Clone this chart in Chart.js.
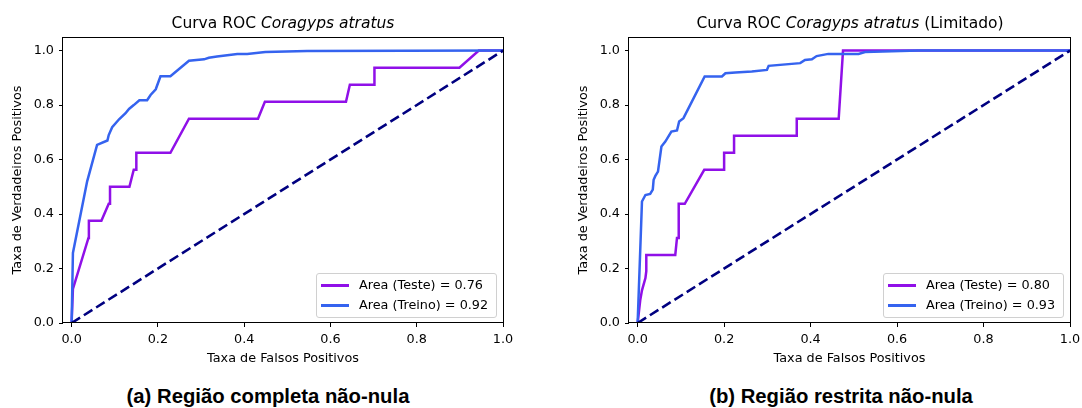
<!DOCTYPE html>
<html>
<head>
<meta charset="utf-8">
<script src="https://cdn.jsdelivr.net/npm/chart.js@4.4.0/dist/chart.umd.min.js"></script>
<style>
  body { margin: 0; width: 1082px; height: 408px; position: relative; overflow: hidden; background: #fff; font-family: "DejaVu Sans", sans-serif; color: #000; }
  canvas { position: absolute; top: 0; }
  .titulo { position: absolute; top: 14px; width: 500px; text-align: center; font-size: 15.5px; line-height: 18px; white-space: nowrap; }
  .legenda { position: absolute; top: 273px; width: 179px; height: 43px; border: 1px solid #d0d0d0; border-radius: 3px; background: rgba(255,255,255,0.8); font-size: 12.8px; }
  .item { position: absolute; left: 4px; height: 16px; line-height: 16px; white-space: nowrap; }
  .item span { position: absolute; left: 0; top: 7px; width: 28px; height: 3px; }
  .item b { font-weight: normal; margin-left: 38px; }
  .legenda-fig { position: absolute; top: 384px; width: 500px; text-align: center; font-family: "Liberation Sans", sans-serif; font-weight: bold; font-size: 20.3px; line-height: 24px; white-space: nowrap; }
</style>
</head>
<body>
<canvas id="rocCompleta" width="541" height="372" style="left:0px"></canvas>
<canvas id="rocRestrita" width="542" height="372" style="left:566px"></canvas>

<div class="titulo" style="left:33px">Curva ROC <i>Coragyps atratus</i></div>
<div class="titulo" style="left:600px">Curva ROC <i>Coragyps atratus</i> (Limitado)</div>
<div class="legenda" id="legCompleta" style="left:316px"></div>
<div class="legenda" id="legRestrita" style="left:883px"></div>
<div class="legenda-fig" style="left:18px">(a) Região completa não-nula</div>
<div class="legenda-fig" style="left:591px">(b) Região restrita não-nula</div>

<script>
// ticks dos eixos
const eixoTicks = [0, 0.2, 0.4, 0.6, 0.8, 1.0];
const diagX = [0, 1];
const diagY = [0, 1];

// (a) regiao completa
const fprTesteA = [0, 0.003, 0.039, 0.040, 0.069, 0.086, 0.089, 0.089, 0.134, 0.144, 0.150, 0.150, 0.229, 0.272, 0.432, 0.448, 0.636, 0.645, 0.702, 0.702, 0.899, 0.944, 1.0];
const tprTesteA = [0, 0.125, 0.3125, 0.375, 0.375, 0.4375, 0.4375, 0.5, 0.5, 0.5625, 0.5625, 0.625, 0.625, 0.75, 0.75, 0.8125, 0.8125, 0.875, 0.875, 0.9375, 0.9375, 1.0, 1.0];
const fprTreinoA = [0, 0.003, 0.036, 0.059, 0.083, 0.086, 0.094, 0.110, 0.125, 0.133, 0.144, 0.157, 0.175, 0.183, 0.195, 0.206, 0.229, 0.272, 0.307, 0.318, 0.337, 0.384, 0.407, 0.449, 0.546, 1.0];
const tprTreinoA = [0, 0.257, 0.52, 0.654, 0.67, 0.69, 0.719, 0.748, 0.77, 0.786, 0.80, 0.818, 0.818, 0.837, 0.858, 0.906, 0.906, 0.963, 0.968, 0.974, 0.978, 0.988, 0.988, 0.995, 0.999, 1.0];
const rotulosA = ["Area (Teste) = 0.76", "Area (Treino) = 0.92"];

// (b) regiao restrita
const fprTesteB = [0, 0.006, 0.010, 0.018, 0.020, 0.020, 0.087, 0.091, 0.095, 0.095, 0.109, 0.154, 0.200, 0.200, 0.223, 0.223, 0.368, 0.368, 0.465, 0.475, 1.0];
const tprTesteB = [0, 0.084, 0.12, 0.165, 0.19, 0.25, 0.25, 0.3125, 0.3125, 0.4375, 0.4375, 0.5625, 0.5625, 0.625, 0.625, 0.6875, 0.6875, 0.75, 0.75, 1.0, 1.0];
const fprTreinoB = [0, 0.010, 0.018, 0.029, 0.035, 0.037, 0.041, 0.047, 0.055, 0.064, 0.078, 0.091, 0.096, 0.106, 0.155, 0.195, 0.203, 0.226, 0.264, 0.299, 0.303, 0.376, 0.387, 0.403, 0.414, 0.441, 0.511, 0.526, 0.65, 1.0];
const tprTreinoB = [0, 0.446, 0.47, 0.474, 0.49, 0.526, 0.54, 0.556, 0.648, 0.666, 0.703, 0.707, 0.74, 0.752, 0.905, 0.905, 0.917, 0.92, 0.923, 0.929, 0.944, 0.954, 0.966, 0.968, 0.98, 0.988, 0.988, 0.995, 1.0, 1.0];
const rotulosB = ["Area (Teste) = 0.80", "Area (Treino) = 0.93"];

const corTeste = "#9010e8";
const corTreino = "#3563ef";
const corDiagonal = "#000080";
const fonte = { family: "DejaVu Sans", size: 12.8 };

function pontos(xs, ys) {
  return xs.map((x, i) => ({ x: x, y: ys[i] }));
}

// moldura preta em volta da area do grafico
const moldura = {
  id: "moldura",
  afterDraw(chart) {
    const a = chart.chartArea;
    const ctx = chart.ctx;
    ctx.save();
    ctx.strokeStyle = "#000";
    ctx.lineWidth = 1;
    ctx.strokeRect(Math.round(a.left) - 0.5, Math.round(a.top) + 0.5, Math.round(a.right - a.left) + 1, Math.round(a.bottom - a.top) - 1);
    ctx.restore();
  },
};

function eixo(titulo, min, max, tituloPad) {
  return {
    type: "linear",
    min: min,
    max: max,
    afterBuildTicks: (axis) => { axis.ticks = eixoTicks.map((v) => ({ value: v })); },
    ticks: { color: "#000", font: fonte, padding: 5, callback: (v) => v.toFixed(1) },
    grid: { drawOnChartArea: false, drawTicks: true, tickLength: 4, color: "#000", lineWidth: 1 },
    border: { display: false },
    title: { display: true, text: titulo, color: "#000", font: fonte, padding: tituloPad },
  };
}

function criarGrafico(id, legId, fprTeste, tprTeste, fprTreino, tprTreino, rotulos) {
  const ctx = document.getElementById(id).getContext("2d");
  const x = eixo("Taxa de Falsos Positivos", -0.02, 1.0, { top: 0, bottom: 6 });
  x.afterFit = (s) => { s.height = 49; };
  const y = eixo("Taxa de Verdadeiros Positivos", 0, 1.05, { top: 10, bottom: 0 });
  y.afterFit = (s) => { s.width = 63; };

  new Chart(ctx, {
    type: "line",
    data: {
      datasets: [
        {
          label: "diagonal",
          data: pontos(diagX, diagY),
          borderColor: corDiagonal,
          borderWidth: 2.6,
          borderDash: [10, 4.5],
          pointRadius: 0,
          order: 0,
        },
        {
          label: rotulos[1],
          data: pontos(fprTreino, tprTreino),
          borderColor: corTreino,
          borderWidth: 2.5,
          pointRadius: 0,
          order: 1,
        },
        {
          label: rotulos[0],
          data: pontos(fprTeste, tprTeste),
          borderColor: corTeste,
          borderWidth: 2.5,
          pointRadius: 0,
          order: 2,
        },
      ],
    },
    options: {
      responsive: false,
      animation: false,
      events: [],
      layout: { padding: { top: 37, right: 38, left: 0, bottom: 0 } },
      elements: { line: { tension: 0, fill: false } },
      plugins: { legend: { display: false }, tooltip: { enabled: false } },
      scales: { x: x, y: y },
    },
    plugins: [moldura],
  });

  // legenda dentro do grafico (canto inferior direito)
  const leg = document.getElementById(legId);
  [[rotulos[0], corTeste], [rotulos[1], corTreino]].forEach((r, i) => {
    const item = document.createElement("div");
    item.className = "item";
    item.style.top = (3 + i * 20) + "px";
    item.innerHTML = '<span style="background:' + r[1] + '"></span><b>' + r[0] + "</b>";
    leg.appendChild(item);
  });
}

criarGrafico("rocCompleta", "legCompleta", fprTesteA, tprTesteA, fprTreinoA, tprTreinoA, rotulosA);
criarGrafico("rocRestrita", "legRestrita", fprTesteB, tprTesteB, fprTreinoB, tprTreinoB, rotulosB);
</script>
</body>
</html>
